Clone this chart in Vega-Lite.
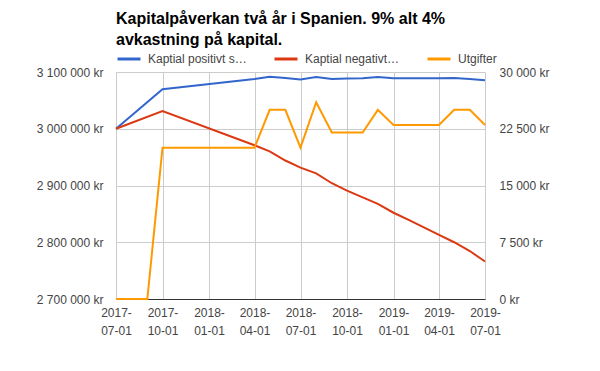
{
  "$schema": "https://vega.github.io/schema/vega-lite/v6.json",
  "width": 369,
  "height": 227,
  "autosize": {"type": "none"},
  "padding": {"left": 116, "top": 72, "right": 115, "bottom": 72},
  "background": "#ffffff",
  "title": {
    "text": ["Kapitalpåverkan två år i Spanien. 9% alt 4%", "avkastning på kapital."],
    "anchor": "start",
    "frame": "group",
    "font": "Liberation Sans",
    "fontSize": 16,
    "fontWeight": "bold",
    "color": "#000000",
    "lineHeight": 21,
    "offset": -2
  },
  "data": {
    "values": [
      {"date": "2017-07-01", "series": "Kaptial positivt s…", "value": 3000000},
      {"date": "2017-10-01", "series": "Kaptial positivt s…", "value": 3069500},
      {"date": "2018-04-01", "series": "Kaptial positivt s…", "value": 3087500},
      {"date": "2018-05-01", "series": "Kaptial positivt s…", "value": 3091500},
      {"date": "2018-06-01", "series": "Kaptial positivt s…", "value": 3089500},
      {"date": "2018-07-01", "series": "Kaptial positivt s…", "value": 3087000},
      {"date": "2018-08-01", "series": "Kaptial positivt s…", "value": 3091000},
      {"date": "2018-09-01", "series": "Kaptial positivt s…", "value": 3087500},
      {"date": "2018-10-01", "series": "Kaptial positivt s…", "value": 3088500},
      {"date": "2018-11-01", "series": "Kaptial positivt s…", "value": 3089000},
      {"date": "2018-12-01", "series": "Kaptial positivt s…", "value": 3091000},
      {"date": "2019-01-01", "series": "Kaptial positivt s…", "value": 3089000},
      {"date": "2019-02-01", "series": "Kaptial positivt s…", "value": 3089000},
      {"date": "2019-03-01", "series": "Kaptial positivt s…", "value": 3089000},
      {"date": "2019-04-01", "series": "Kaptial positivt s…", "value": 3089000},
      {"date": "2019-05-01", "series": "Kaptial positivt s…", "value": 3089500},
      {"date": "2019-06-01", "series": "Kaptial positivt s…", "value": 3087500},
      {"date": "2019-07-01", "series": "Kaptial positivt s…", "value": 3085500},
      {"date": "2017-07-01", "series": "Kaptial negativt…", "value": 3000000},
      {"date": "2017-10-01", "series": "Kaptial negativt…", "value": 3031000},
      {"date": "2018-04-01", "series": "Kaptial negativt…", "value": 2971000},
      {"date": "2018-05-01", "series": "Kaptial negativt…", "value": 2960000},
      {"date": "2018-06-01", "series": "Kaptial negativt…", "value": 2944000},
      {"date": "2018-07-01", "series": "Kaptial negativt…", "value": 2931500},
      {"date": "2018-08-01", "series": "Kaptial negativt…", "value": 2921500},
      {"date": "2018-09-01", "series": "Kaptial negativt…", "value": 2904000},
      {"date": "2018-10-01", "series": "Kaptial negativt…", "value": 2891000},
      {"date": "2018-11-01", "series": "Kaptial negativt…", "value": 2879000},
      {"date": "2018-12-01", "series": "Kaptial negativt…", "value": 2867500},
      {"date": "2019-01-01", "series": "Kaptial negativt…", "value": 2852000},
      {"date": "2019-02-01", "series": "Kaptial negativt…", "value": 2839000},
      {"date": "2019-03-01", "series": "Kaptial negativt…", "value": 2826500},
      {"date": "2019-04-01", "series": "Kaptial negativt…", "value": 2813000},
      {"date": "2019-05-01", "series": "Kaptial negativt…", "value": 2800000},
      {"date": "2019-06-01", "series": "Kaptial negativt…", "value": 2784500},
      {"date": "2019-07-01", "series": "Kaptial negativt…", "value": 2766000},
      {"date": "2017-07-01", "series": "Utgifter", "value": 0},
      {"date": "2017-09-01", "series": "Utgifter", "value": 0},
      {"date": "2017-10-01", "series": "Utgifter", "value": 20000},
      {"date": "2018-04-01", "series": "Utgifter", "value": 20000},
      {"date": "2018-05-01", "series": "Utgifter", "value": 25000},
      {"date": "2018-06-01", "series": "Utgifter", "value": 25000},
      {"date": "2018-07-01", "series": "Utgifter", "value": 20000},
      {"date": "2018-08-01", "series": "Utgifter", "value": 26000},
      {"date": "2018-09-01", "series": "Utgifter", "value": 22000},
      {"date": "2018-10-01", "series": "Utgifter", "value": 22000},
      {"date": "2018-11-01", "series": "Utgifter", "value": 22000},
      {"date": "2018-12-01", "series": "Utgifter", "value": 25000},
      {"date": "2019-01-01", "series": "Utgifter", "value": 23000},
      {"date": "2019-02-01", "series": "Utgifter", "value": 23000},
      {"date": "2019-03-01", "series": "Utgifter", "value": 23000},
      {"date": "2019-04-01", "series": "Utgifter", "value": 23000},
      {"date": "2019-05-01", "series": "Utgifter", "value": 25000},
      {"date": "2019-06-01", "series": "Utgifter", "value": 25000},
      {"date": "2019-07-01", "series": "Utgifter", "value": 23000}
    ]
  },
  "encoding": {
    "x": {
      "field": "date",
      "type": "temporal",
      "scale": {"type": "utc", "domain": [1498867200000, 1561939200000], "nice": false},
      "axis": {
        "title": null,
        "values": [1498867200000, 1506816000000, 1514764800000, 1522540800000, 1530403200000, 1538352000000, 1546300800000, 1554076800000, 1561939200000],
        "labelExpr": "[utcFormat(datum.value, '%Y-'), utcFormat(datum.value, '%m-%d')]",
        "grid": true,
        "gridColor": "#cccccc",
        "ticks": false,
        "domain": true,
        "domainColor": "#333333",
        "domainWidth": 1,
        "labelFont": "Liberation Sans",
        "labelFontSize": 12,
        "labelColor": "#444444",
        "labelPadding": 8,
        "labelLineHeight": 18,
        "labelBaseline": "top",
        "labelFlush": false,
        "labelOverlap": false
      }
    },
    "color": {
      "field": "series",
      "type": "nominal",
      "scale": {
        "domain": ["Kaptial positivt s…", "Kaptial negativt…", "Utgifter"],
        "range": ["#3366cc", "#dc3912", "#ff9900"]
      },
      "legend": {
        "title": null,
        "orient": "none",
        "direction": "horizontal",
        "legendX": 0,
        "legendY": -26,
        "symbolType": "stroke",
        "symbolSize": 529,
        "symbolStrokeWidth": 3,
        "labelFont": "Liberation Sans",
        "labelFontSize": 12,
        "labelColor": "#444444",
        "labelOffset": 6,
        "columnPadding": 21,
        "labelLimit": 300
      }
    }
  },
  "layer": [
    {
      "transform": [{"filter": "datum.series !== 'Utgifter'"}],
      "mark": {"type": "line", "strokeWidth": 2},
      "encoding": {
        "y": {
          "field": "value",
          "type": "quantitative",
          "scale": {"domain": [2700000, 3100000], "nice": false, "zero": false},
          "axis": {
            "title": null,
            "orient": "left",
            "values": [2700000, 2800000, 2900000, 3000000, 3100000],
            "labelExpr": "replace(format(datum.value, ',d'), regexp(',', 'g'), ' ') + ' kr'",
            "grid": true,
            "gridColor": "#cccccc",
            "ticks": false,
            "domain": false,
            "labelFont": "Liberation Sans",
            "labelFontSize": 12,
            "labelColor": "#444444",
            "labelPadding": 13
          }
        }
      }
    },
    {
      "transform": [{"filter": "datum.series === 'Utgifter'"}],
      "mark": {"type": "line", "strokeWidth": 2},
      "encoding": {
        "y": {
          "field": "value",
          "type": "quantitative",
          "scale": {"domain": [0, 30000], "nice": false},
          "axis": {
            "title": null,
            "orient": "right",
            "values": [0, 7500, 15000, 22500, 30000],
            "labelExpr": "replace(format(datum.value, ',d'), regexp(',', 'g'), ' ') + ' kr'",
            "grid": false,
            "ticks": false,
            "domain": false,
            "labelFont": "Liberation Sans",
            "labelFontSize": 12,
            "labelColor": "#444444",
            "labelPadding": 14
          }
        }
      }
    }
  ],
  "resolve": {"scale": {"y": "independent"}},
  "config": {"view": {"stroke": null}}
}
